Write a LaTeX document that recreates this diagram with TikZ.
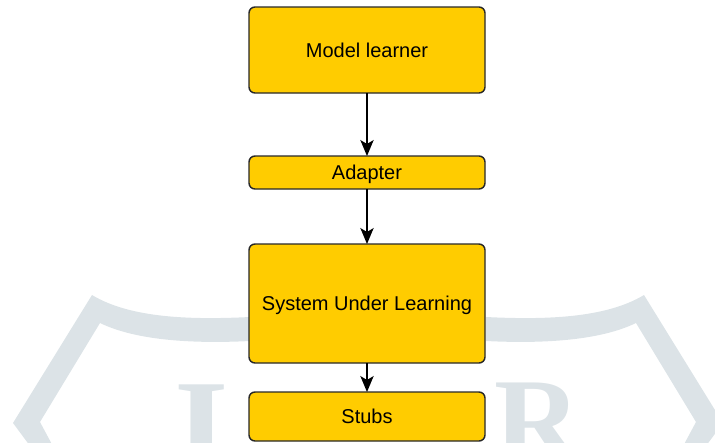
\documentclass[tikz,border=0pt]{standalone}
\usepackage{fontspec}
\setmainfont{Liberation Sans}
\newfontfamily\wmfont{Liberation Serif}
\usetikzlibrary{positioning,arrows.meta}
\definecolor{boxyel}{RGB}{255,204,0}
\definecolor{boxline}{RGB}{40,40,40}
\definecolor{wmgray}{RGB}{220,227,231}

\begin{document}
\begin{tikzpicture}[x=0.75pt,y=-0.75pt,font=\fontsize{15}{18}\selectfont,
      >={Stealth[length=12pt,width=10pt,inset=3pt]},
      blk/.style={draw=boxline,fill=boxyel,line width=1.1pt,rounded corners=4.5pt,
        minimum width=177pt,inner sep=0pt,outer sep=0pt,text height=10.75pt,text depth=0pt},
      wm/.style={fill=wmgray,draw=none},
      link/.style={->,line width=1.1pt,black}]
    \useasboundingbox (0,0) rectangle (715,443);
    % watermark behind the chart
    \begin{scope}
      \clip (0,0) rectangle (715,443);
      \fill[wm] (33,450) -- (13,423) -- (92,295)
        .. controls (130,318) and (190,320) .. (250,317) -- (250,341)
        .. controls (190,344) and (135,340) .. (100,323) -- (40,422) -- (55,450) -- cycle;
      \fill[wm] (703,450) -- (723,423) -- (644,295)
        .. controls (606,318) and (546,320) .. (486,317) -- (486,341)
        .. controls (546,344) and (601,340) .. (636,323) -- (696,422) -- (681,450) -- cycle;
      \node[anchor=base,text=wmgray,inner sep=0pt,font=\wmfont\bfseries\fontsize{105}{110}\selectfont]
        (wmi) at (202,476) {I};
      \node[anchor=base west,text=wmgray,inner sep=0pt,font=\wmfont\bfseries\fontsize{90}{100}\selectfont]
        (wmr) at (494,461) {R};
    \end{scope}
    % chart
    \node[blk,minimum height=64.5pt] (learner) at (367,50) {Model learner};
    \node[blk,minimum height=24.75pt,below=47.25pt of learner] (adapter) {Adapter};
    \node[blk,minimum height=89.25pt,below=41.25pt of adapter] (sul) {System Under Learning};
    \node[blk,minimum height=36.75pt,below=21.75pt of sul] (stubs) {Stubs};
    \draw[link] (learner) -- (adapter);
    \draw[link] (adapter) -- (sul);
    \draw[link] (sul) -- (stubs);
  \end{tikzpicture}
\end{document}
